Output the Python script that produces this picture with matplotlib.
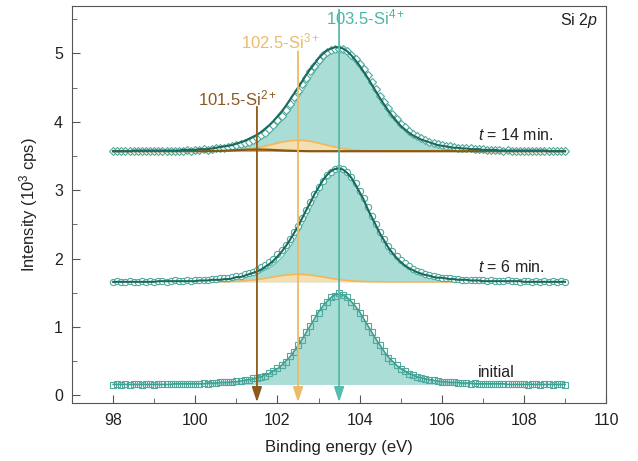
import numpy as np
import matplotlib
matplotlib.use('Agg')
import matplotlib.pyplot as plt
from matplotlib.ticker import MultipleLocator

plt.rcParams['font.family'] = ['Liberation Sans', 'DejaVu Sans']
plt.rcParams['mathtext.fontset'] = 'custom'
plt.rcParams['mathtext.rm'] = 'Liberation Sans'
plt.rcParams['mathtext.it'] = 'Liberation Sans:italic'

# binding energy grid (eV), 0.1 eV steps from 98 to 109
energy = np.round(np.arange(98.0, 109.05, 0.1), 1)

# baselines (10^3 cps)
base_initial = 0.16
base_6 = 1.66
base_14 = 3.57

# measured points
data_initial = [
    0.15, 0.16, 0.15, 0.16, 0.15, 0.16, 0.16, 0.15, 0.16, 0.16,
    0.15, 0.16, 0.16, 0.17, 0.16, 0.16, 0.17, 0.16, 0.17, 0.17,
    0.17, 0.17, 0.18, 0.17, 0.18, 0.18, 0.19, 0.19, 0.19, 0.20,
    0.21, 0.21, 0.22, 0.23, 0.25, 0.26, 0.27, 0.29, 0.33, 0.35,
    0.40, 0.44, 0.49, 0.57, 0.63, 0.74, 0.81, 0.93, 1.01, 1.13,
    1.21, 1.31, 1.36, 1.44, 1.46, 1.49, 1.47, 1.44, 1.36, 1.31,
    1.21, 1.13, 1.01, 0.93, 0.81, 0.73, 0.65, 0.55, 0.50, 0.44,
    0.39, 0.36, 0.31, 0.30, 0.27, 0.26, 0.24, 0.23, 0.22, 0.21,
    0.20, 0.20, 0.19, 0.19, 0.18, 0.18, 0.18, 0.17, 0.18, 0.17,
    0.17, 0.17, 0.16, 0.17, 0.17, 0.16, 0.16, 0.17, 0.16, 0.16,
    0.16, 0.15, 0.16, 0.16, 0.15, 0.16, 0.16, 0.15, 0.16, 0.16,
    0.15]
data_6 = [
    1.66, 1.67, 1.66, 1.66, 1.67, 1.66, 1.66, 1.67, 1.66, 1.67,
    1.66, 1.67, 1.67, 1.66, 1.67, 1.68, 1.67, 1.67, 1.68, 1.67,
    1.68, 1.68, 1.69, 1.69, 1.70, 1.70, 1.71, 1.71, 1.72, 1.73,
    1.74, 1.75, 1.77, 1.79, 1.81, 1.84, 1.87, 1.91, 1.95, 2.00,
    2.06, 2.13, 2.20, 2.29, 2.39, 2.48, 2.60, 2.71, 2.83, 2.94,
    3.04, 3.13, 3.22, 3.27, 3.31, 3.33, 3.31, 3.26, 3.19, 3.10,
    2.99, 2.88, 2.75, 2.63, 2.51, 2.39, 2.29, 2.19, 2.11, 2.04,
    1.98, 1.93, 1.89, 1.85, 1.82, 1.80, 1.78, 1.76, 1.75, 1.73,
    1.72, 1.72, 1.71, 1.70, 1.70, 1.69, 1.69, 1.69, 1.68, 1.68,
    1.68, 1.67, 1.68, 1.67, 1.67, 1.67, 1.68, 1.67, 1.67, 1.66,
    1.67, 1.67, 1.66, 1.67, 1.66, 1.67, 1.66, 1.67, 1.66, 1.67,
    1.66]
data_14 = [
    3.57, 3.58, 3.57, 3.57, 3.58, 3.57, 3.58, 3.58, 3.57, 3.58,
    3.58, 3.57, 3.58, 3.58, 3.57, 3.58, 3.58, 3.58, 3.59, 3.58,
    3.59, 3.59, 3.60, 3.59, 3.60, 3.61, 3.61, 3.62, 3.63, 3.64,
    3.66, 3.67, 3.69, 3.71, 3.74, 3.77, 3.80, 3.84, 3.89, 3.95,
    4.02, 4.09, 4.17, 4.26, 4.36, 4.45, 4.55, 4.64, 4.74, 4.82,
    4.90, 4.97, 5.02, 5.05, 5.07, 5.07, 5.06, 5.03, 4.98, 4.92,
    4.85, 4.77, 4.68, 4.58, 4.48, 4.38, 4.29, 4.20, 4.11, 4.04,
    3.97, 3.92, 3.87, 3.82, 3.79, 3.76, 3.73, 3.71, 3.69, 3.67,
    3.66, 3.64, 3.64, 3.63, 3.62, 3.62, 3.61, 3.61, 3.60, 3.60,
    3.60, 3.59, 3.59, 3.59, 3.59, 3.58, 3.59, 3.58, 3.58, 3.58,
    3.58, 3.58, 3.57, 3.58, 3.58, 3.57, 3.58, 3.57, 3.58, 3.57,
    3.57]

# fitted components
si4_initial = [
    0.16, 0.16, 0.16, 0.16, 0.16, 0.16, 0.16, 0.16, 0.16, 0.16,
    0.16, 0.16, 0.16, 0.16, 0.16, 0.17, 0.17, 0.17, 0.17, 0.17,
    0.17, 0.17, 0.17, 0.18, 0.18, 0.18, 0.19, 0.19, 0.19, 0.20,
    0.20, 0.21, 0.22, 0.23, 0.24, 0.26, 0.27, 0.30, 0.32, 0.36,
    0.39, 0.44, 0.50, 0.56, 0.64, 0.73, 0.82, 0.92, 1.02, 1.12,
    1.22, 1.30, 1.37, 1.43, 1.47, 1.48, 1.47, 1.43, 1.37, 1.30,
    1.22, 1.12, 1.02, 0.92, 0.82, 0.73, 0.64, 0.56, 0.50, 0.44,
    0.39, 0.36, 0.32, 0.30, 0.27, 0.26, 0.24, 0.23, 0.22, 0.21,
    0.20, 0.20, 0.19, 0.19, 0.19, 0.18, 0.18, 0.18, 0.17, 0.17,
    0.17, 0.17, 0.17, 0.17, 0.17, 0.17, 0.16, 0.16, 0.16, 0.16,
    0.16, 0.16, 0.16, 0.16, 0.16, 0.16, 0.16, 0.16, 0.16, 0.16,
    0.16]
si4_6 = [
    1.66, 1.66, 1.66, 1.66, 1.66, 1.66, 1.66, 1.66, 1.66, 1.66,
    1.66, 1.67, 1.67, 1.67, 1.67, 1.67, 1.67, 1.67, 1.67, 1.67,
    1.67, 1.68, 1.68, 1.68, 1.69, 1.69, 1.69, 1.70, 1.70, 1.71,
    1.72, 1.72, 1.73, 1.75, 1.76, 1.78, 1.80, 1.83, 1.86, 1.90,
    1.95, 2.01, 2.08, 2.16, 2.26, 2.36, 2.48, 2.60, 2.72, 2.85,
    2.96, 3.07, 3.16, 3.23, 3.27, 3.29, 3.27, 3.23, 3.16, 3.07,
    2.96, 2.85, 2.72, 2.60, 2.48, 2.36, 2.26, 2.16, 2.08, 2.01,
    1.95, 1.90, 1.86, 1.83, 1.80, 1.78, 1.76, 1.75, 1.73, 1.72,
    1.72, 1.71, 1.70, 1.70, 1.69, 1.69, 1.69, 1.68, 1.68, 1.68,
    1.67, 1.67, 1.67, 1.67, 1.67, 1.67, 1.67, 1.67, 1.67, 1.67,
    1.66, 1.66, 1.66, 1.66, 1.66, 1.66, 1.66, 1.66, 1.66, 1.66,
    1.66]
si3_6 = [1.660] * 25 + [
    1.661, 1.662, 1.662, 1.664, 1.665, 1.668, 1.671, 1.675, 1.680, 1.686,
    1.694, 1.702, 1.712, 1.722, 1.732, 1.742, 1.751, 1.759, 1.765, 1.769,
    1.770,
    1.769, 1.765, 1.759, 1.751, 1.742, 1.732, 1.722, 1.712, 1.702, 1.694,
    1.686, 1.680, 1.675, 1.671, 1.668, 1.665, 1.664, 1.662, 1.662, 1.661,
] + [1.660] * 45
env_6 = [
    1.66, 1.66, 1.66, 1.66, 1.66, 1.66, 1.66, 1.66, 1.66, 1.66,
    1.66, 1.67, 1.67, 1.67, 1.67, 1.67, 1.67, 1.67, 1.67, 1.67,
    1.67, 1.68, 1.68, 1.68, 1.69, 1.69, 1.69, 1.70, 1.70, 1.71,
    1.73, 1.73, 1.75, 1.77, 1.79, 1.81, 1.84, 1.88, 1.92, 1.97,
    2.03, 2.10, 2.18, 2.27, 2.37, 2.47, 2.59, 2.71, 2.82, 2.94,
    3.04, 3.14, 3.22, 3.28, 3.31, 3.32, 3.30, 3.25, 3.18, 3.08,
    2.97, 2.86, 2.72, 2.60, 2.48, 2.36, 2.26, 2.16, 2.08, 2.01,
    1.95, 1.90, 1.86, 1.83, 1.80, 1.78, 1.76, 1.75, 1.73, 1.72,
    1.72, 1.71, 1.70, 1.70, 1.69, 1.69, 1.69, 1.68, 1.68, 1.68,
    1.67, 1.67, 1.67, 1.67, 1.67, 1.67, 1.67, 1.67, 1.67, 1.67,
    1.66, 1.66, 1.66, 1.66, 1.66, 1.66, 1.66, 1.66, 1.66, 1.66,
    1.66]
si4_14 = [
    3.57, 3.57, 3.57, 3.57, 3.57, 3.58, 3.58, 3.58, 3.58, 3.58,
    3.58, 3.58, 3.58, 3.58, 3.58, 3.58, 3.58, 3.59, 3.59, 3.59,
    3.59, 3.60, 3.60, 3.60, 3.61, 3.61, 3.62, 3.62, 3.63, 3.64,
    3.65, 3.66, 3.68, 3.70, 3.72, 3.74, 3.77, 3.80, 3.84, 3.89,
    3.94, 4.01, 4.08, 4.16, 4.25, 4.34, 4.43, 4.53, 4.63, 4.72,
    4.81, 4.88, 4.95, 5.00, 5.03, 5.04, 5.03, 5.00, 4.95, 4.88,
    4.81, 4.72, 4.63, 4.53, 4.43, 4.34, 4.25, 4.16, 4.08, 4.01,
    3.94, 3.89, 3.84, 3.80, 3.77, 3.74, 3.72, 3.70, 3.68, 3.66,
    3.65, 3.64, 3.63, 3.62, 3.62, 3.61, 3.61, 3.60, 3.60, 3.60,
    3.59, 3.59, 3.59, 3.59, 3.58, 3.58, 3.58, 3.58, 3.58, 3.58,
    3.58, 3.58, 3.58, 3.58, 3.58, 3.58, 3.57, 3.57, 3.57, 3.57,
    3.57]
si3_14 = [3.570] * 25 + [
    3.571, 3.572, 3.574, 3.575, 3.578, 3.581, 3.586, 3.592, 3.599, 3.608,
    3.619, 3.631, 3.645, 3.660, 3.674, 3.689, 3.702, 3.714, 3.723, 3.728,
    3.730,
    3.728, 3.723, 3.714, 3.702, 3.689, 3.674, 3.660, 3.645, 3.631, 3.619,
    3.608, 3.599, 3.592, 3.586, 3.581, 3.578, 3.575, 3.574, 3.572, 3.571,
] + [3.570] * 45
si2_14 = [3.570] * 23 + [
    3.571, 3.572, 3.573, 3.575, 3.577, 3.579, 3.582,
    3.585, 3.588, 3.591, 3.593, 3.594, 3.595, 3.594, 3.593, 3.591, 3.588,
    3.585, 3.582, 3.579, 3.577, 3.575, 3.573, 3.572, 3.571,
] + [3.570] * 63
env_14 = [
    3.57, 3.57, 3.57, 3.57, 3.57, 3.58, 3.58, 3.58, 3.58, 3.58,
    3.58, 3.58, 3.58, 3.58, 3.58, 3.58, 3.58, 3.59, 3.59, 3.59,
    3.59, 3.60, 3.60, 3.60, 3.61, 3.62, 3.63, 3.64, 3.65, 3.66,
    3.68, 3.70, 3.72, 3.75, 3.78, 3.81, 3.85, 3.90, 3.95, 4.01,
    4.08, 4.15, 4.23, 4.32, 4.41, 4.50, 4.59, 4.69, 4.77, 4.85,
    4.93, 4.99, 5.04, 5.07, 5.09, 5.09, 5.07, 5.03, 4.97, 4.90,
    4.82, 4.73, 4.64, 4.54, 4.44, 4.34, 4.25, 4.16, 4.08, 4.01,
    3.94, 3.89, 3.84, 3.80, 3.77, 3.74, 3.72, 3.70, 3.68, 3.66,
    3.65, 3.64, 3.63, 3.62, 3.62, 3.61, 3.61, 3.60, 3.60, 3.60,
    3.59, 3.59, 3.59, 3.59, 3.58, 3.58, 3.58, 3.58, 3.58, 3.58,
    3.58, 3.58, 3.58, 3.58, 3.58, 3.58, 3.57, 3.57, 3.57, 3.57,
    3.57]

# peak positions and labels
peak_pos = [101.5, 102.5, 103.5]
peak_names = ['101.5-Si$^{2+}$', '102.5-Si$^{3+}$', '103.5-Si$^{4+}$']
line_tops = [4.22, 5.03, 5.64]
label_xy = [(101.03, 4.34), (102.06, 5.17), (104.15, 5.52)]
peak_colors = ['#8d5a1c', '#ecbb68', '#55bbad']
label_colors = ['#8b5a24', '#ecbb6c', '#4db7a7']

spectra_names = ['initial', '$t$ = 6 min.', '$t$ = 14 min.']
spectra_label_y = [0.34, 1.88, 3.80]

c_fill4 = '#a9ddd6'
c_edge4 = '#67c2b5'
c_fill3 = '#f4dfb2'
c_edge3 = '#f5b65a'
c_fill2 = '#c79c5e'
c_edge2 = '#8a5710'
c_env = '#19695f'
c_mark = '#4fa99c'
c_text = '#222222'

fig, ax = plt.subplots(figsize=(6.38, 4.61), dpi=100)
fig.subplots_adjust(left=0.113, right=0.95, bottom=0.126, top=0.988)

# initial
ax.fill_between(energy, base_initial, si4_initial, color=c_fill4, lw=0, zorder=1)
ax.plot(energy, si4_initial, color='#3f9f92', lw=1.2, zorder=4)
ax.plot(energy, data_initial, 's', ms=4.2, mfc='none', mec=c_mark, mew=0.8, zorder=3)

# t = 6 min
ax.fill_between(energy, base_6, si4_6, color=c_fill4, lw=0, zorder=1)
ax.plot(energy, si4_6, color=c_edge4, lw=1.0, zorder=2)
ax.fill_between(energy, base_6, si3_6, color=c_fill3, lw=0, zorder=2)
ax.plot(energy, si3_6, color=c_edge3, lw=1.2, zorder=2)
ax.plot(energy, data_6, 'o', ms=4.5, mfc='white', mec=c_mark, mew=0.8, zorder=3)
ax.plot(energy, env_6, color=c_env, lw=1.5, zorder=4)

# t = 14 min
ax.fill_between(energy, base_14, si4_14, color=c_fill4, lw=0, zorder=1)
ax.plot(energy, si4_14, color=c_edge4, lw=1.0, zorder=2)
ax.fill_between(energy, base_14, si3_14, color=c_fill3, lw=0, zorder=2)
ax.plot(energy, si3_14, color=c_edge3, lw=1.2, zorder=2)
ax.plot(energy, data_14, 'D', ms=3.8, mfc='white', mec=c_mark, mew=0.8, zorder=3)
ax.fill_between(energy, base_14, si2_14, color=c_fill2, lw=0, zorder=4)
ax.plot(energy, si2_14, color=c_edge2, lw=1.6, zorder=4)
ax.plot(energy, env_14, color=c_env, lw=1.5, zorder=4)

# peak markers
for pos, top, name, (lx, ly), pc, lc in zip(peak_pos, line_tops, peak_names,
                                             label_xy, peak_colors, label_colors):
    ax.annotate('', xy=(pos, -0.1), xytext=(pos, top),
                arrowprops=dict(arrowstyle='-|>,head_length=0.9,head_width=0.3',
                                color=pc, lw=1.3, shrinkA=0, shrinkB=0), zorder=5)
    ax.text(lx, ly, name, color=lc, fontsize=12, ha='center', va='center', zorder=6)

for name, y in zip(spectra_names, spectra_label_y):
    ax.text(106.88, y, name, fontsize=11.5, color=c_text, ha='left', va='center')

ax.text(0.985, 0.962, 'Si 2$p$', transform=ax.transAxes, fontsize=11.5,
        color=c_text, ha='right', va='center')

ax.set_xlim(97, 110)
ax.set_ylim(-0.11, 5.7)
ax.xaxis.set_major_locator(MultipleLocator(2))
ax.xaxis.set_minor_locator(MultipleLocator(1))
ax.yaxis.set_major_locator(MultipleLocator(1))
ax.yaxis.set_minor_locator(MultipleLocator(0.5))
ax.tick_params(which='both', direction='in', color='#555555', labelsize=11.5,
               labelcolor=c_text)
ax.tick_params(axis='x', which='major', length=6, pad=7)
ax.tick_params(axis='y', which='major', length=6, pad=6.5)
ax.tick_params(which='minor', length=3.5)
for sp in ax.spines.values():
    sp.set_color('#555555')

ax.set_xlabel('Binding energy (eV)', fontsize=12, color=c_text, labelpad=9)
ax.set_ylabel('Intensity (10$^3$ cps)', fontsize=12, color=c_text, labelpad=10)

fig.savefig('out.png', dpi=100)
